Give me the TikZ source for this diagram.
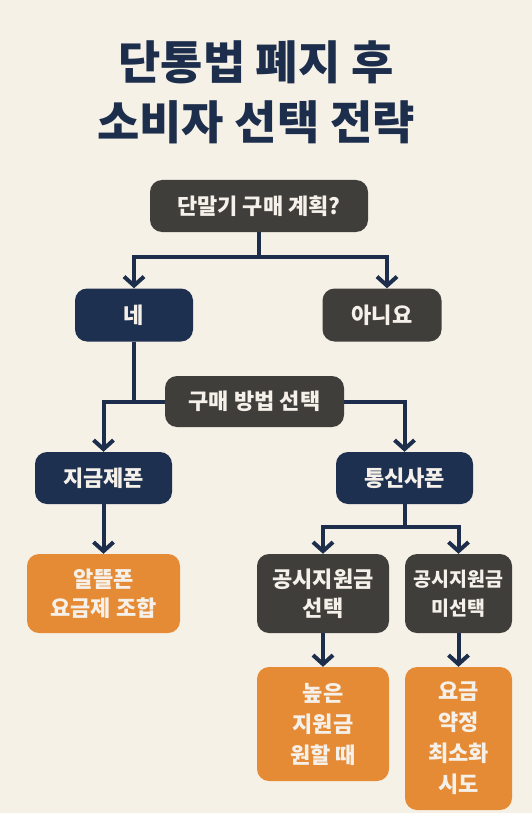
\documentclass[tikz,border=0pt]{standalone}
\usepackage{fontspec}
\setmainfont{Noto Sans CJK KR}
\usepackage{tikz}
\usetikzlibrary{arrows.meta, positioning, calc}
\definecolor{PaperCream}{HTML}{F6F1E7}
\definecolor{InkNavy}{HTML}{1C2E4B}
\definecolor{BoxNavy}{HTML}{1E3050}
\definecolor{BoxSlate}{HTML}{403E3A}
\definecolor{BoxOrange}{HTML}{E68B35}
\definecolor{TextCream}{HTML}{F5F1EA}

\begin{document}
\begin{tikzpicture}[x=1pt, y=-1pt,
    box/.style={rounded corners=12pt, inner sep=0pt, text=TextCream, align=center,
                font=\bfseries\fontsize{22}{29}\selectfont},
    navybox/.style={box, fill=BoxNavy},
    slatebox/.style={box, fill=BoxSlate},
    orangebox/.style={box, fill=BoxOrange},
    link/.style={draw=InkNavy, line width=4pt},
    flow/.style={link, -{Straight Barb[length=9pt, width=20pt]}}]
    % Page and title
    \fill[PaperCream] (0,0) rectangle (532,813);
    \useasboundingbox (0,0) rectangle (532,813);
    \node[font=\bfseries\fontsize{46}{60}\selectfont, text=InkNavy, align=center] (title) at (256,92) {단통법 폐지 후\\소비자 선택 전략};

    % First decision
    \node[slatebox, minimum width=218pt, minimum height=52pt] (plan) at (259,206) {단말기 구매 계획?};
    \node[navybox, minimum width=118pt, minimum height=53pt] (yes) at (134,315) {네};
    \node[slatebox, minimum width=119pt, minimum height=53pt] (no) at (382,315) {아니요};
    \coordinate (fork1) at (259,257);
    \draw[flow] (plan.south) -- (fork1) -| (yes.north);
    \draw[flow] (fork1) -| ($(no.north)+(5,0)$);

    % Purchase method
    \node[slatebox, minimum width=179pt, minimum height=51pt] (method) at (254.5,401.5) {구매 방법 선택};
    \node[navybox, minimum width=137pt, minimum height=52pt] (unlocked) at (103.5,478) {지금제폰};
    \node[navybox, minimum width=137pt, minimum height=52pt] (carrier) at (404.5,478) {통신사폰};
    \draw[link] (yes.south) -- (yes.south |- method.west);
    \draw[flow] (method.west) -| (unlocked.north);
    \draw[flow] (method.east) -| (carrier.north);

    % Unlocked phone route
    \node[orangebox, minimum width=153pt, minimum height=79pt] (budget) at (103.5,593.5) {알뜰폰\\요금제 조합};
    \draw[flow] (unlocked.south) -- (budget.north);

    % Carrier phone route
    \node[slatebox, minimum width=132pt, minimum height=79pt] (subsidy) at (323,593.5) {공시지원금\\선택};
    \node[slatebox, minimum width=107pt, minimum height=79pt, font=\bfseries\fontsize{19.5}{29}\selectfont] (nosubsidy) at (458.5,593.5) {공시지원금\\미선택};
    \coordinate (fork2) at (404.5,527);
    \draw[flow] (carrier.south) -- (fork2) -| (subsidy.north);
    \draw[flow] (fork2) -| (nosubsidy.north);

    % Outcomes
    \node[orangebox, minimum width=132pt, minimum height=114pt, font=\bfseries\fontsize{22}{31}\selectfont] (highsub) at (323,724) {높은\\지원금\\원할 때};
    \node[orangebox, minimum width=107pt, minimum height=143pt, font=\bfseries\fontsize{22}{31}\selectfont] (lowplan) at (458.5,738.5) {요금\\약정\\최소화\\시도};
    \draw[flow] (subsidy.south) -- (highsub.north);
    \draw[flow] (nosubsidy.south) -- (lowplan.north);
\end{tikzpicture}
\end{document}
